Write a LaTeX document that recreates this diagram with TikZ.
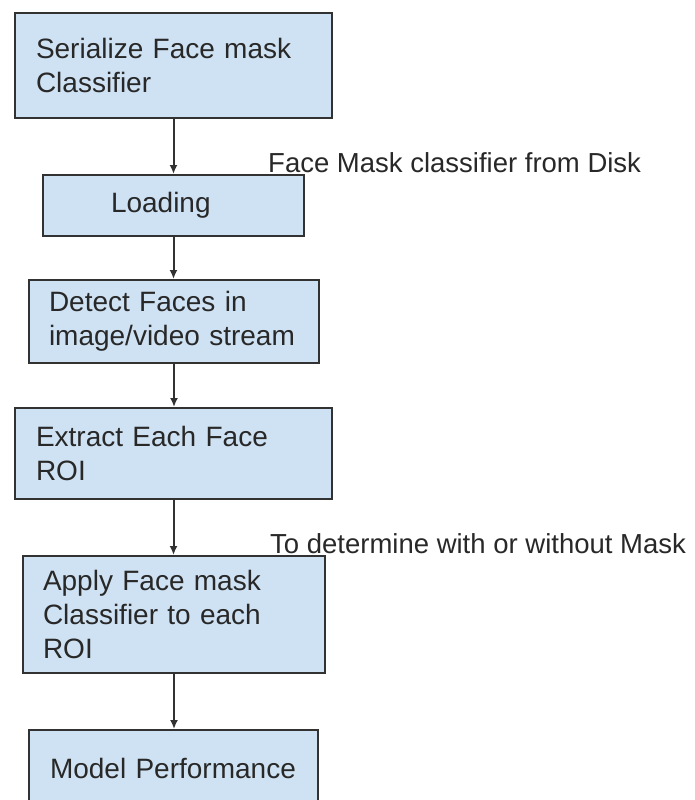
\documentclass[tikz,border=0pt]{standalone}
\usepackage{fontspec}
\setmainfont{Liberation Sans}
\usetikzlibrary{arrows.meta}
\definecolor{boxcolor}{RGB}{207, 226, 243}
\definecolor{edgecolor}{RGB}{50, 50, 50}
\definecolor{inkcolor}{RGB}{40, 40, 40}

\begin{document}
\begin{tikzpicture}[x=1pt, y=-1pt,
        stage/.style={draw=edgecolor, fill=boxcolor, line width=2pt, anchor=north west, align=left,
                inner xsep=20pt, text=inkcolor, font=\fontsize{28}{34}\selectfont},
        flow/.style={draw=edgecolor, line width=2pt, -{Latex[length=9pt, width=8pt]}},
        note/.style={anchor=base west, inner sep=0pt, text=inkcolor, font=\fontsize{27.5}{34}\selectfont}]
        \clip (0, 0) rectangle (694, 800); % page is 694 x 800
        % Stages {{{
        \node[stage, inner xsep=21pt, text width=275pt, minimum height=105pt] (serialize) at (14, 12) {Serialize Face mask\\Classifier};
        \node[stage, inner xsep=68pt, text width=125pt, minimum height=61pt] (loading) at (42, 174) {Loading};
        \node[stage, text width=250pt, minimum height=83pt] (detect) at (28, 279) {Detect Faces in\\image/video stream};
        \node[stage, inner xsep=21pt, text width=275pt, minimum height=91pt] (extract) at (14, 407) {Extract Each Face\\ROI};
        \node[stage, text width=262pt, minimum height=117pt] (apply) at (22, 555) {Apply Face mask\\Classifier to each\\ROI};
        \node[stage, inner xsep=21pt, text width=247pt, minimum height=76pt] (model) at (28, 729) {Model Performance};
        % }}}
        % Arrows {{{
        \draw[flow] (serialize.south) -- (serialize.south |- loading.north);
        \draw[flow] (loading.south) -- (loading.south |- detect.north);
        \draw[flow] (detect.south) -- (detect.south |- extract.north);
        \draw[flow] (extract.south) -- (extract.south |- apply.north);
        \draw[flow] (apply.south) -- (apply.south |- model.north);
        % }}}
        \node[note] (disknote) at (268, 172) {Face Mask classifier from Disk};
        \node[note] (masknote) at (270, 553) {To determine with or without Mask};
\end{tikzpicture}
\end{document}
